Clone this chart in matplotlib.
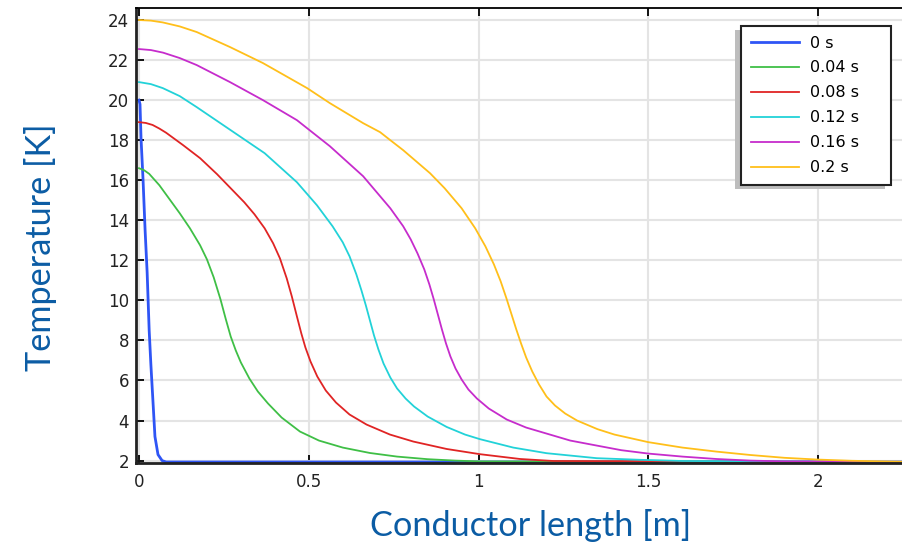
import matplotlib
matplotlib.use("Agg")
import matplotlib.pyplot as plt
from matplotlib.patches import Rectangle
from matplotlib.transforms import IdentityTransform

# temperature profiles along the conductor at several times
labels = ["0 s", "0.04 s", "0.08 s", "0.12 s", "0.16 s", "0.2 s"]
colors = ["#2f55f5", "#3fbf46", "#e02424", "#22d2d8", "#c62ccc", "#ffbf1a"]

x_0 = [0, 0.003, 0.006, 0.012, 0.018, 0.024, 0.030, 0.035, 0.041, 0.047, 0.056, 0.068, 0.08, 2.26]
T_0 = [20.0, 19.8, 18.1, 16.0, 13.5, 11.4, 8.5, 6.8, 5.0, 3.2, 2.3, 2.0, 1.93, 1.93]

x_004 = [0, 0.015, 0.03, 0.06, 0.09, 0.12, 0.15, 0.18, 0.20, 0.22, 0.24, 0.255, 0.27, 0.285,
         0.30, 0.325, 0.35, 0.38, 0.42, 0.474, 0.53, 0.60, 0.68, 0.76, 0.85, 0.93, 1.0, 2.26]
T_004 = [16.6, 16.5, 16.32, 15.75, 15.05, 14.35, 13.6, 12.75, 12.05, 11.15, 10.05, 9.1, 8.2, 7.5,
         6.9, 6.1, 5.45, 4.85, 4.15, 3.45, 3.0, 2.65, 2.38, 2.2, 2.07, 2.0, 1.96, 1.93]

x_008 = [0, 0.02, 0.04, 0.06, 0.08, 0.13, 0.18, 0.23, 0.27, 0.31, 0.34, 0.37, 0.395, 0.415,
         0.435, 0.45, 0.465, 0.478, 0.49, 0.505, 0.525, 0.55, 0.58, 0.62, 0.67, 0.739, 0.808,
         0.906, 1.004, 1.122, 1.22, 2.26]
T_008 = [18.9, 18.86, 18.76, 18.58, 18.37, 17.75, 17.1, 16.3, 15.6, 14.9, 14.3, 13.6, 12.85, 12.1,
         11.1, 10.2, 9.2, 8.35, 7.65, 6.95, 6.2, 5.5, 4.9, 4.3, 3.8, 3.3, 2.95,
         2.58, 2.32, 2.08, 1.98, 1.93]

x_012 = [0, 0.035, 0.07, 0.12, 0.17, 0.27, 0.37, 0.465, 0.524, 0.57, 0.60, 0.62, 0.64, 0.655,
         0.668, 0.68, 0.692, 0.705, 0.72, 0.74, 0.76, 0.785, 0.81, 0.85, 0.906, 0.96, 1.004,
         1.102, 1.2, 1.348, 1.475, 1.6, 2.26]
T_012 = [20.9, 20.8, 20.6, 20.2, 19.65, 18.5, 17.35, 15.9, 14.75, 13.7, 12.9, 12.2, 11.3, 10.5,
         9.75, 9.0, 8.25, 7.55, 6.85, 6.15, 5.6, 5.1, 4.7, 4.2, 3.68, 3.3, 3.07,
         2.65, 2.37, 2.12, 2.04, 1.98, 1.93]

x_016 = [0, 0.035, 0.071, 0.12, 0.17, 0.268, 0.365, 0.465, 0.562, 0.66, 0.71, 0.74, 0.778,
         0.80, 0.82, 0.84, 0.855, 0.868, 0.88, 0.892, 0.904, 0.917, 0.932, 0.95, 0.97, 0.995,
         1.03, 1.083, 1.14, 1.2, 1.27, 1.348, 1.42, 1.5, 1.6, 1.7, 1.8, 1.9, 2.26]
T_016 = [22.55, 22.5, 22.37, 22.1, 21.75, 20.9, 20.0, 19.0, 17.7, 16.2, 15.2, 14.6, 13.7,
         13.05, 12.35, 11.55, 10.8, 10.05, 9.3, 8.55, 7.85, 7.2, 6.6, 6.05, 5.55, 5.1,
         4.6, 4.05, 3.65, 3.35, 3.0, 2.75, 2.52, 2.35, 2.2, 2.08, 2.0, 1.96, 1.93]

x_020 = [0, 0.035, 0.07, 0.12, 0.17, 0.268, 0.365, 0.495, 0.562, 0.66, 0.71, 0.74, 0.778,
         0.857, 0.90, 0.95, 0.99, 1.02, 1.045, 1.065, 1.082, 1.097, 1.111, 1.125, 1.14, 1.158,
         1.178, 1.2, 1.225, 1.255, 1.29, 1.35, 1.40, 1.50, 1.60, 1.70, 1.80, 1.90, 2.0, 2.1,
         2.26]
T_020 = [24.0, 23.97, 23.88, 23.68, 23.4, 22.65, 21.85, 20.6, 19.85, 18.85, 18.4, 18.0, 17.5,
         16.35, 15.6, 14.6, 13.6, 12.7, 11.8, 10.95, 10.1, 9.3, 8.55, 7.85, 7.15, 6.45,
         5.8, 5.2, 4.75, 4.35, 4.0, 3.57, 3.3, 2.92, 2.65, 2.45, 2.28, 2.14, 2.05, 1.99,
         1.94]

xs = [x_0, x_004, x_008, x_012, x_016, x_020]
Ts = [T_0, T_004, T_008, T_012, T_016, T_020]

W, H = 902, 547
fig = plt.figure(figsize=(W / 100, H / 100), dpi=100)
# axes run past the right edge of the figure, so the right spine is cut off
left, right, top, bottom = 136, 906, 8, 463
ax = fig.add_axes([left / W, (H - bottom) / H, (right - left) / W, (bottom - top) / H])

for x, T, c, lab in zip(xs, Ts, colors, labels):
    lw = 2.0 if lab == "0 s" else 1.3
    ax.plot(x, T, color=c, lw=lw, label=lab, zorder=2)

ax.set_xlim(-0.0088, 2.2585)
ax.set_ylim(1.88, 24.6)
ax.set_xticks([0, 0.5, 1, 1.5, 2])
ax.set_xticklabels(["0", "0.5", "1", "1.5", "2"])
ax.set_yticks(range(2, 25, 2))

ax.grid(True, color="#e4e4e4", lw=1.5, zorder=0)
ax.set_axisbelow(True)
ax.tick_params(direction="in", length=6, width=1.3, color="black", labelsize=12,
               labelcolor="#222222", top=True, right=False, pad=7)
ax.tick_params(axis="y", pad=5)
for side in ["left", "bottom"]:
    ax.spines[side].set_linewidth(2.0)
    ax.spines[side].set_color("#222222")
ax.spines["top"].set_linewidth(1.3)
ax.spines["right"].set_visible(False)

label_font = dict(family="Lato", size=24.7, color="#0b5ca4")
fig.text(531 / W, 1 - 525 / H, "Conductor length [m]", ha="center", va="center", **label_font)
fig.text(41 / W, 1 - 247 / H, "Temperature [K]", ha="center", va="center",
         rotation=90, **label_font)

# legend box fixed in width, anchored at the upper right
lx0, lx1, ly0 = 741, 891, 26
leg = ax.legend(loc="upper left",
                bbox_to_anchor=((lx0 - left) / (right - left), (bottom - ly0) / (bottom - top),
                                (lx1 - lx0) / (right - left), 0.0),
                mode="expand", borderaxespad=0, fancybox=False, framealpha=1,
                edgecolor="#222222", fontsize=11.5, handlelength=3.0, handletextpad=0.7,
                labelspacing=0.62, borderpad=0.6)
leg.get_frame().set_linewidth(1.5)
leg.set_zorder(5)

fig.canvas.draw()
bb = leg.get_window_extent()
ax.add_patch(Rectangle((bb.x0 - 6, bb.y0 - 4), bb.width, bb.height, transform=IdentityTransform(),
                       facecolor="#bdbdbd", edgecolor="none", zorder=4.9, clip_on=False))

fig.savefig("out.png", dpi=100)
